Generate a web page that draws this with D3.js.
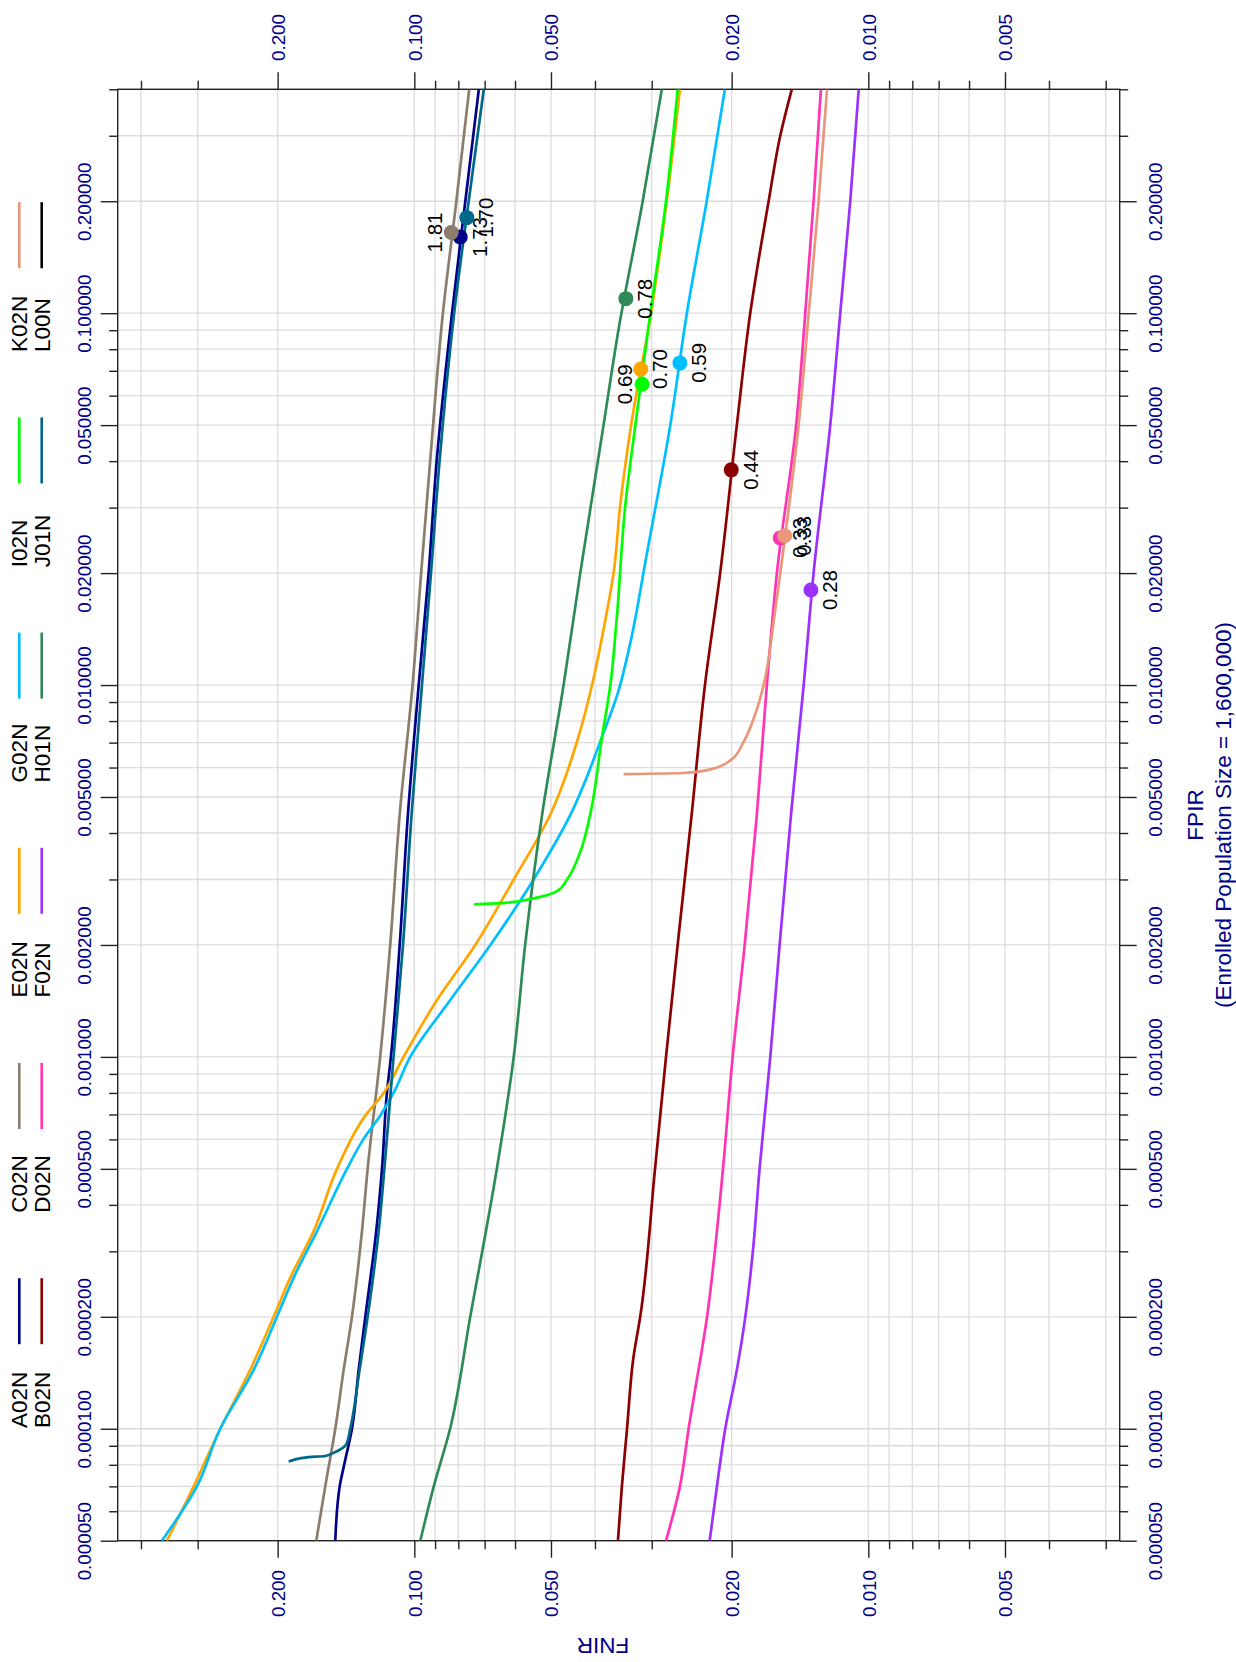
<!DOCTYPE html>
<html lang="en">
<head>
<meta charset="utf-8">
<title>DET curves FNIR vs FPIR</title>
<script src="https://d3js.org/d3.v7.min.js"></script>
<style>
  body { margin: 0; background: #fff; }
  svg { display: block; font-family: "Liberation Sans", Arial, sans-serif; }
  .grid line { stroke: #dcdcdc; stroke-width: 1.3px; }
  .axis path { display: none; }
  .axis line { stroke: #222; stroke-width: 1.4px; }
  .axis text { fill: #00008b; font-size: 18.8px; }
  .curve { fill: none; stroke-width: 2.7px; stroke-linejoin: round; }
</style>
</head>
<body>
<script>
// ---- data ----
const seriesNames = ["A02N","B02N","C02N","D02N","E02N","F02N","G02N","H01N","I02N","J01N","K02N","L00N"];
const seriesColors = ["#00008b","#8b0000","#8b7d6b","#ff34b3","#ffa500","#9b30ff","#00bfff","#2e8b57","#00ff00","#00688b","#e9967a","#000000"];

// each point: [FPIR, FNIR]
const A02N = [[0.4,0.0721],[0.2,0.0772],[0.1,0.0826],[0.0405,0.0892],[0.02,0.0930],[0.01,0.0978],[0.00448,0.1033],[0.002,0.1077],[0.001,0.1126],[0.0008,0.1149],[0.0005,0.1178],[0.00034,0.1213],[0.0002,0.1282],[0.000144,0.1326],[0.0001,0.1372],[0.000081,0.1424],[0.00007,0.1460],[0.00005,0.1493]];
const B02N = [[0.4,0.01474],[0.3,0.01563],[0.2,0.01658],[0.1,0.0182],[0.05,0.01948],[0.02,0.0212],[0.01,0.0229],[0.00448,0.0245],[0.002,0.0263],[0.001,0.0279],[0.0005,0.0295],[0.0002,0.0318],[0.000156,0.0329],[0.0001,0.0340],[0.00007,0.0349],[0.00005,0.0356]];
const C02N = [[0.4,0.0757],[0.2,0.0808],[0.1,0.0865],[0.0405,0.0922],[0.02,0.0966],[0.01,0.1009],[0.00448,0.1077],[0.002,0.1130],[0.001,0.1189],[0.0005,0.1267],[0.00034,0.1304],[0.0002,0.1372],[0.000144,0.1431],[0.0001,0.1493],[0.00007,0.1571],[0.00005,0.1644]];
const D02N = [[0.4,0.01272],[0.2,0.0132],[0.1,0.01377],[0.05,0.01442],[0.02,0.0159],[0.01,0.01673],[0.00448,0.0176],[0.002,0.01872],[0.001,0.0199],[0.0005,0.0209],[0.0002,0.02266],[0.0001,0.02488],[0.00007,0.0260],[0.00005,0.0279]];
const E02N = [[0.4,0.0260],[0.2,0.0278],[0.1,0.0301],[0.05,0.0333],[0.0304,0.0352],[0.02,0.0364],[0.01484,0.0380],[0.01,0.0406],[0.00725,0.0435],[0.00448,0.0502],[0.003,0.0604],[0.002,0.0734],[0.00142,0.0892],[0.001,0.1056],[0.0008,0.1168],[0.000695,0.1282],[0.0005,0.1480],[0.00034,0.1666],[0.000255,0.1876],[0.0002,0.2041],[0.000144,0.2299],[0.0001,0.2676],[0.00007,0.3062],[0.00005,0.3506]];
const F02N = [[0.4,0.0105],[0.2,0.01096],[0.1,0.01153],[0.05,0.01213],[0.02,0.0132],[0.01,0.01388],[0.00448,0.0148],[0.002,0.01568],[0.001,0.01644],[0.0005,0.01736],[0.0003,0.01796],[0.0002,0.01866],[0.000144,0.01948],[0.0001,0.02066],[0.00007,0.02155],[0.00005,0.02236]];
const G02N = [[0.4,0.0207],[0.2,0.0227],[0.1,0.0251],[0.05,0.0273],[0.0228,0.0307],[0.01285,0.0335],[0.00965,0.0355],[0.00725,0.0386],[0.00448,0.0453],[0.003,0.0546],[0.002,0.0680],[0.00142,0.0834],[0.001,0.1021],[0.0008,0.1111],[0.000695,0.1189],[0.000602,0.1293],[0.0005,0.1407],[0.00034,0.1638],[0.000255,0.1844],[0.0002,0.2007],[0.000144,0.2259],[0.0001,0.2676],[0.00007,0.3012],[0.00005,0.3597]];
const H01N = [[0.4,0.0285],[0.2,0.0314],[0.0903,0.0355],[0.05,0.0383],[0.02,0.0431],[0.01,0.0469],[0.00448,0.0523],[0.002,0.0570],[0.001,0.0604],[0.0005,0.0658],[0.0002,0.0753],[0.0001,0.0834],[0.00007,0.0906],[0.00005,0.0970]];
const I02N = [[0.4,0.0263],[0.2,0.0279],[0.1,0.0302],[0.05,0.0326],[0.0304,0.0343],[0.01526,0.0358],[0.01,0.0370],[0.00725,0.0386],[0.00448,0.0410],[0.00356,0.0431],[0.003,0.0461],[0.00279,0.0485],[0.00267,0.0546],[0.00259,0.0647],[0.00257,0.0738]];
const J01N = [[0.4,0.0703],[0.2,0.0759],[0.1,0.0817],[0.0405,0.0879],[0.02,0.0919],[0.01,0.0962],[0.00448,0.1014],[0.002,0.1059],[0.001,0.1111],[0.0005,0.1164],[0.00034,0.1198],[0.0002,0.1267],[0.000144,0.1320],[0.0001,0.1384],[0.0000908,0.1412],[0.0000862,0.1505],[0.0000845,0.1571],[0.0000838,0.1724],[0.0000816,0.1891]];
const K02N = [[0.4,0.01233],[0.2,0.01287],[0.1,0.01353],[0.05,0.01424],[0.02,0.01563],[0.01484,0.01616],[0.01,0.0170],[0.00836,0.01774],[0.00704,0.01882],[0.00628,0.0201],[0.00593,0.0223],[0.0058,0.0255],[0.00576,0.0346]];
const L00N = [];
const seriesData = [A02N,B02N,C02N,D02N,E02N,F02N,G02N,H01N,I02N,J01N,K02N,L00N];

// operating points
const opSeries = ["A02N","B02N","C02N","D02N","E02N","F02N","G02N","H01N","I02N","J01N","K02N"];
const opFpir = [0.1603,0.0379,0.1648,0.02487,0.0708,0.01802,0.0735,0.1094,0.0644,0.1807,0.02521];
const opFnir = [0.0792,0.02004,0.0829,0.01563,0.0317,0.01338,0.0260,0.0342,0.0315,0.0766,0.01528];
const opLabels = ["1.73","0.44","1.81","0.33","0.70","0.28","0.59","0.78","0.69","1.70","0.33"];
const opLeftSide = ["C02N","I02N"];

// ticks
const fnirMajor = [0.2,0.1,0.05,0.02,0.01,0.005];
const fnirMinor = [0.4,0.3,0.09,0.08,0.07,0.06,0.04,0.03,0.009,0.008,0.007,0.006,0.004,0.003];
const fpirMajor = [0.00005,0.0001,0.0002,0.0005,0.001,0.002,0.005,0.01,0.02,0.05,0.1,0.2];
const fpirMinor = [0.00006,0.00007,0.00008,0.00009,0.0003,0.0004,0.0006,0.0007,0.0008,0.0009,0.003,0.004,0.006,0.007,0.008,0.009,0.03,0.04,0.06,0.07,0.08,0.09,0.3,0.4];

// ---- layout ----
const w = 1236, h = 1662;
const plotL = 117.7, plotR = 1119.7, plotT = 89.3, plotB = 1540.7;
const navy = "#00008b";

const svg = d3.select("body").append("svg")
    .attr("width", w)
    .attr("height", h);

// FNIR runs horizontally (decreasing to the right), FPIR vertically
const xScale = d3.scaleLog().domain([0.4501, 0.0027946]).range([plotL, plotR]);
const yScale = d3.scaleLog().domain([0.00005, 0.4]).range([plotB, plotT]);

// grid
const grid = svg.append("g").attr("class", "grid");
grid.selectAll(".gx").data(fnirMajor.concat(fnirMinor)).join("line")
    .attr("class", "gx")
    .attr("x1", d => xScale(d)).attr("x2", d => xScale(d))
    .attr("y1", plotT).attr("y2", plotB);
grid.selectAll(".gy").data(fpirMajor.concat(fpirMinor)).join("line")
    .attr("class", "gy")
    .attr("x1", plotL).attr("x2", plotR)
    .attr("y1", d => yScale(d)).attr("y2", d => yScale(d));

// axes
const fmtX = d3.format(".3f"), fmtY = d3.format(".6f");

function addAxis(axisFn, scale, ticks, size, fmt, tx, ty) {
    return svg.append("g")
        .attr("class", "axis")
        .attr("transform", "translate(" + tx + "," + ty + ")")
        .call(axisFn(scale).tickValues(ticks).tickSize(size).tickSizeOuter(0).tickFormat(fmt));
}

const topAx = addAxis(d3.axisTop, xScale, fnirMajor, 17, fmtX, 0, plotT);
addAxis(d3.axisTop, xScale, fnirMinor, 8.5, "", 0, plotT);
const botAx = addAxis(d3.axisBottom, xScale, fnirMajor, 17, fmtX, 0, plotB);
addAxis(d3.axisBottom, xScale, fnirMinor, 8.5, "", 0, plotB);
const leftAx = addAxis(d3.axisLeft, yScale, fpirMajor, 17, fmtY, plotL, 0);
addAxis(d3.axisLeft, yScale, fpirMinor, 8.5, "", plotL, 0);
const rightAx = addAxis(d3.axisRight, yScale, fpirMajor, 17, fmtY, plotR, 0);
addAxis(d3.axisRight, yScale, fpirMinor, 8.5, "", plotR, 0);

// rotate tick labels (read bottom to top)
topAx.selectAll("text").attr("transform", "rotate(-90)")
    .attr("x", 28.3).attr("y", 6.7).attr("dy", 0).attr("text-anchor", "start");
botAx.selectAll("text").attr("transform", "rotate(-90)")
    .attr("x", -29.3).attr("y", 6.7).attr("dy", 0).attr("text-anchor", "end");
leftAx.selectAll("text").attr("transform", "rotate(-90)")
    .attr("x", 0).attr("y", -27).attr("dy", 0).attr("text-anchor", "middle");
rightAx.selectAll("text").attr("transform", "rotate(-90)")
    .attr("x", 0).attr("y", 42).attr("dy", 0).attr("text-anchor", "middle");

// frame
svg.append("rect")
    .attr("x", plotL).attr("y", plotT)
    .attr("width", plotR - plotL).attr("height", plotB - plotT)
    .attr("fill", "none").attr("stroke", "#222").attr("stroke-width", 1.4);

// curves
svg.append("clipPath").attr("id", "plotclip").append("rect")
    .attr("x", plotL).attr("y", plotT).attr("width", plotR - plotL).attr("height", plotB - plotT);

const line = d3.line()
    .curve(d3.curveMonotoneY)
    .x(d => xScale(d[1]))
    .y(d => yScale(d[0]));

const curves = svg.append("g").attr("clip-path", "url(#plotclip)");
seriesData.forEach((pts, i) => {
    if (pts.length === 0) return;
    curves.append("path")
        .attr("class", "curve")
        .attr("stroke", seriesColors[i])
        .attr("d", line(pts));
});

// operating points and labels
opSeries.forEach((name, i) => {
    const cx = xScale(opFnir[i]), cy = yScale(opFpir[i]);
    svg.append("circle")
        .attr("cx", cx).attr("cy", cy).attr("r", 7.5)
        .attr("fill", seriesColors[seriesNames.indexOf(name)]);
    const bx = opLeftSide.includes(name) ? cx - 9.6 : cx + 26.3;
    svg.append("text")
        .attr("transform", "translate(" + bx + "," + cy + ") rotate(-90)")
        .attr("text-anchor", "middle")
        .attr("font-size", "20.5px")
        .attr("fill", "black")
        .text(opLabels[i]);
});

// legend (two columns, groups of two)
seriesNames.forEach((name, i) => {
    const col = i % 2, grp = Math.floor(i / 2);
    const ys = 1428 - grp * 215.2;
    const tx = col === 0 ? 26.7 : 50;
    const lx = col === 0 ? 19.3 : 41.7;
    svg.append("text")
        .attr("transform", "translate(" + tx + "," + ys + ") rotate(-90)")
        .attr("text-anchor", "start")
        .attr("font-size", "22.5px")
        .attr("fill", "black")
        .text(name);
    svg.append("line")
        .attr("x1", lx).attr("x2", lx)
        .attr("y1", ys - 83.8).attr("y2", ys - 83.8 - 66)
        .attr("stroke", seriesColors[i])
        .attr("stroke-width", 2.6);
});

// axis titles
svg.append("text")
    .attr("transform", "translate(603,1638) rotate(180)")
    .attr("text-anchor", "middle")
    .attr("font-size", "22.5px")
    .attr("fill", navy)
    .text("FNIR");

svg.append("text")
    .attr("transform", "translate(1203,815) rotate(-90)")
    .attr("text-anchor", "middle")
    .attr("font-size", "22.5px")
    .attr("fill", navy)
    .text("FPIR");

svg.append("text")
    .attr("transform", "translate(1230.5,815) rotate(-90)")
    .attr("text-anchor", "middle")
    .attr("font-size", "22.5px")
    .attr("fill", navy)
    .text("(Enrolled Population Size = 1,600,000)");
</script>
</body>
</html>
